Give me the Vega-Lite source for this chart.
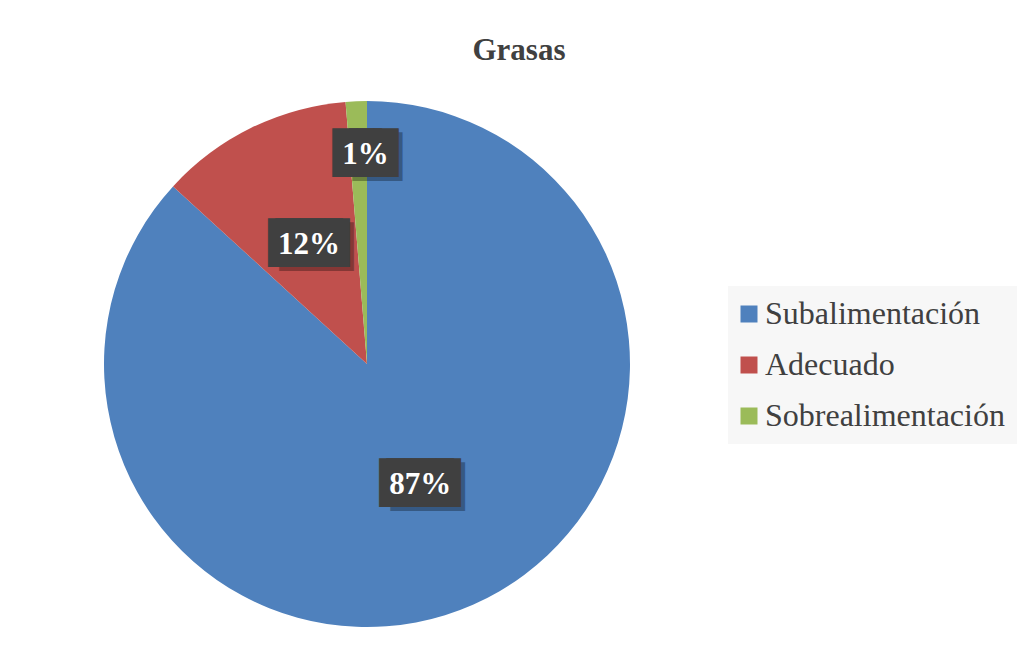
{
  "$schema": "https://vega.github.io/schema/vega-lite/v6.json",
  "autosize": {"type": "none"},
  "width": 734,
  "height": 570,
  "padding": {"left": 0, "top": 79, "right": 286, "bottom": 0},
  "title": {
    "text": "Grasas",
    "font": "Liberation Serif",
    "fontSize": 31,
    "fontWeight": "bold",
    "color": "#404040",
    "anchor": "middle",
    "frame": "group",
    "baseline": "alphabetic",
    "dx": 152,
    "offset": -12
  },
  "data": {
    "values": [
      {"cat": "Subalimentación", "value": 86.8, "label": "87%", "order": 1},
      {"cat": "Adecuado", "value": 11.9, "label": "12%", "order": 2},
      {"cat": "Sobrealimentación", "value": 1.3, "label": "1%", "order": 3}
    ]
  },
  "encoding": {
    "theta": {"field": "value", "type": "quantitative", "stack": true},
    "order": {"field": "order", "type": "quantitative"}
  },
  "layer": [
    {
      "mark": {"type": "arc", "outerRadius": 263, "stroke": null},
      "encoding": {
        "color": {
          "field": "cat",
          "type": "nominal",
          "scale": {
            "domain": ["Subalimentación", "Adecuado", "Sobrealimentación"],
            "range": ["#4f81bd", "#c0504d", "#9bbb59"]
          },
          "legend": {
            "title": null,
            "orient": "none",
            "legendX": 728,
            "legendY": 207,
            "fillColor": "#f7f7f7",
            "padding": 12,
            "symbolType": "square",
            "symbolSize": 289,
            "symbolOffset": -7,
            "symbolStrokeWidth": 0,
            "labelFont": "Liberation Serif",
            "labelFontSize": 32,
            "labelColor": "#404040",
            "labelOffset": 0,
            "labelLimit": 400,
            "rowPadding": 19
          }
        }
      }
    },
    {
      "mark": {
        "type": "text",
        "font": "DejaVu Sans Mono",
        "fontSize": 41,
        "color": "#000000",
        "opacity": 0.3,
        "baseline": "middle",
        "align": "center",
        "dy": 4,
        "text": {"expr": "datum.label === '1%' ? '██' : '███'"},
        "radius": {"expr": "datum.label === '1%' ? 209 : 132"},
        "dx": {"expr": "datum.label === '1%' ? 19 : 7.6"}
      },
      "encoding": {"detail": {"field": "cat", "type": "nominal"}}
    },
    {
      "mark": {
        "type": "text",
        "font": "DejaVu Sans Mono",
        "fontSize": 41,
        "color": "#404040",
        "baseline": "middle",
        "align": "center",
        "text": {"expr": "datum.label === '1%' ? '██' : '███'"},
        "radius": {"expr": "datum.label === '1%' ? 209 : 132"},
        "dx": {"expr": "datum.label === '1%' ? -1.4 : -3.6"}
      },
      "encoding": {"detail": {"field": "cat", "type": "nominal"}}
    },
    {
      "mark": {
        "type": "text",
        "font": "DejaVu Sans Mono",
        "fontSize": 41,
        "color": "#404040",
        "baseline": "middle",
        "align": "center",
        "text": {"expr": "datum.label === '1%' ? '██' : '███'"},
        "radius": {"expr": "datum.label === '1%' ? 209 : 132"},
        "dx": {"expr": "datum.label === '1%' ? 15.4 : 3.6"}
      },
      "encoding": {"detail": {"field": "cat", "type": "nominal"}}
    },
    {
      "mark": {
        "type": "text",
        "font": "Liberation Serif",
        "fontSize": 31,
        "fontWeight": "bold",
        "color": "#ffffff",
        "baseline": "middle",
        "align": "center",
        "radius": {"expr": "datum.label === '1%' ? 209 : 132"},
        "dx": {"expr": "datum.label === '1%' ? 7 : 0"}
      },
      "encoding": {
        "detail": {"field": "cat", "type": "nominal"},
        "text": {"field": "label", "type": "nominal"}
      }
    }
  ],
  "config": {"view": {"stroke": null}}
}
